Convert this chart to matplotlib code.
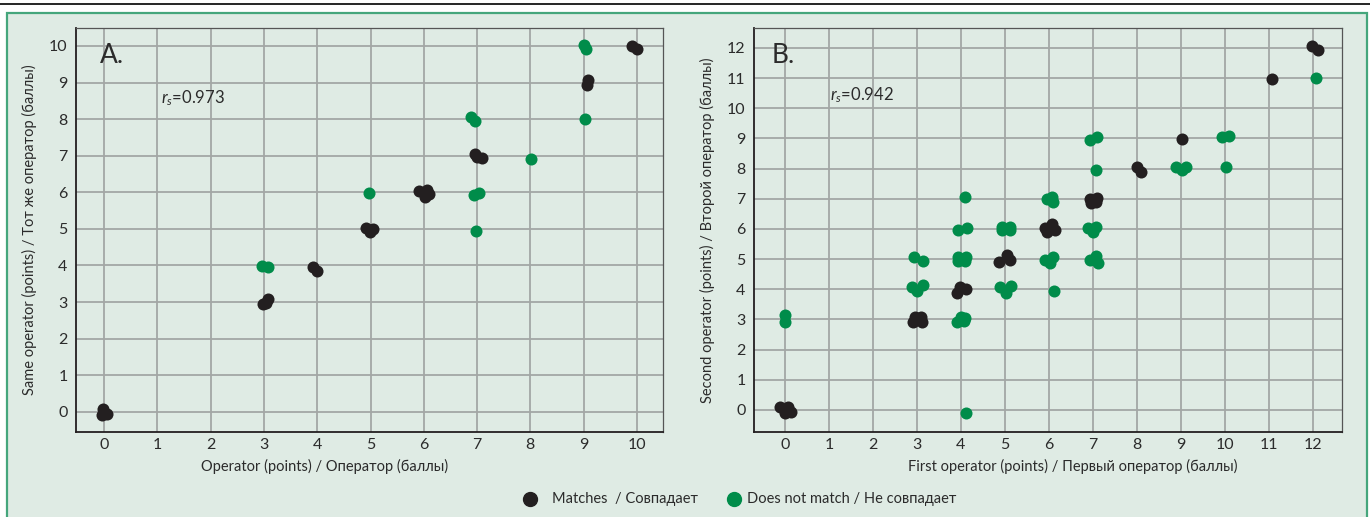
import matplotlib
matplotlib.use("Agg")
import matplotlib.pyplot as plt
from matplotlib.lines import Line2D
from matplotlib.patches import Rectangle

plt.rcParams["font.family"] = ["Lato", "DejaVu Sans"]
plt.rcParams["mathtext.fontset"] = "custom"
plt.rcParams["mathtext.it"] = "Lato:italic"
plt.rcParams["mathtext.rm"] = "Lato"

BLACK = "#231f20"
GREEN = "#008c4a"
PANEL_BG = "#dfebe4"
GRID = "#a3a7a5"
TEXT = "#2b2b2b"

W, H = 1370, 517

# A. same operator, two readings (jittered scores as plotted)
a_match_x = [-0.02, -0.04, 0.06, 2.98, 3.08, 3.04, 3.92, 4.00,
             4.92, 4.99, 5.05, 5.91, 6.06, 6.02, 6.10,
             6.96, 7.09, 7.00, 9.08, 9.06, 9.91, 10.00]
a_match_y = [0.07, -0.08, -0.05, 2.95, 3.09, 2.98, 3.96, 3.85,
             5.03, 4.92, 5.00, 6.04, 6.07, 5.87, 5.96,
             7.05, 6.94, 6.97, 9.07, 8.93, 10.00, 9.92]
a_diff_x = [2.96, 3.08, 4.97, 6.98, 6.94, 7.04, 8.01, 6.89, 6.96,
            9.02, 9.00, 9.04]
a_diff_y = [3.99, 3.96, 5.99, 4.95, 5.93, 5.98, 6.91, 8.06, 7.95,
            8.00, 10.03, 9.92]

# B. first vs second operator
b_match_x = [-0.11, 0.07, 0.00, 0.14,
             2.91, 2.95, 3.09, 3.12,
             3.91, 3.98, 4.11,
             4.86, 5.05, 5.11,
             5.91, 6.07, 6.14, 5.95,
             6.93, 7.09, 6.95, 7.08,
             8.00, 8.09, 9.02, 11.07, 11.98, 12.11]
b_match_y = [0.09, 0.09, -0.10, -0.08,
             2.92, 3.07, 3.08, 2.91,
             3.88, 4.08, 4.01,
             4.91, 5.14, 4.97,
             6.03, 6.17, 5.97, 5.90,
             7.00, 7.02, 6.87, 6.88,
             8.05, 7.89, 8.98, 10.97, 12.07, 11.93]
b_diff_x = [0.00, 0.00,
            2.93, 3.14, 2.89, 3.00, 3.14,
            3.92, 4.00, 4.10, 4.08, 4.11,
            3.94, 4.11, 3.94, 4.09,
            3.93, 4.14, 4.09,
            4.89, 5.02, 5.14,
            4.93, 5.11, 4.93, 5.11,
            6.11, 5.91, 6.09, 6.02,
            5.95, 6.07, 6.09,
            6.93, 7.07, 7.11, 6.89, 7.07, 7.00,
            7.07, 6.93, 7.09,
            8.89, 9.02, 9.11, 9.93, 10.09, 10.02, 12.07]
b_diff_y = [3.15, 2.93,
            5.07, 4.94, 4.08, 3.94, 4.14,
            2.93, 3.08, 3.05, 2.95, -0.09,
            5.07, 5.07, 4.93, 4.93,
            5.97, 6.03, 7.06,
            4.08, 3.88, 4.11,
            6.07, 6.07, 5.95, 5.95,
            3.95, 4.97, 5.07, 4.87,
            7.00, 7.06, 6.90,
            4.97, 5.10, 4.87, 6.03, 6.07, 5.90,
            7.95, 8.95, 9.05,
            8.05, 7.95, 8.05, 9.05, 9.08, 8.05, 11.00]

fig = plt.figure(figsize=(W / 100, H / 100), dpi=100)

# header rule and green panel frame
fig.add_artist(Line2D([0, 1], [1 - 3.5 / H] * 2, color="black", lw=1.2))
fig.add_artist(Rectangle((7 / W, -0.01), 1360 / W, 1 - 12.5 / H + 0.01,
                         facecolor=PANEL_BG, edgecolor="#45a67c", lw=1.6,
                         transform=fig.transFigure, zorder=0))


def style_axes(ax, xmax, ymax, xlim, ylim):
    ax.set_facecolor("none")
    ax.set_xlim(*xlim)
    ax.set_ylim(*ylim)
    ax.set_xticks(range(0, xmax + 1))
    ax.set_yticks(range(0, ymax + 1))
    ax.grid(True, color=GRID, lw=1.3)
    ax.set_axisbelow(True)
    ax.tick_params(length=0, labelsize=11.5, labelcolor=TEXT, pad=4)
    ax.tick_params(axis="y", pad=6)
    for side in ("left", "bottom"):
        ax.spines[side].set_color(BLACK)
        ax.spines[side].set_linewidth(1.3)
    for side in ("top", "right"):
        ax.spines[side].set_color("#555555")
        ax.spines[side].set_linewidth(0.9)


ax_a = fig.add_axes([76 / W, 1 - 432 / H, 587 / W, 404 / H])
style_axes(ax_a, 10, 10, (-0.53, 10.49), (-0.55, 10.49))
ax_a.scatter(a_match_x, a_match_y, s=75, color=BLACK, lw=0, zorder=3)
ax_a.scatter(a_diff_x, a_diff_y, s=75, color=GREEN, lw=0, zorder=3)
ax_a.text(-0.09, 9.74, "A.", fontsize=19, color=TEXT, va="center", ha="left")
ax_a.text(1.07, 8.58, "$r_s$=0.973", fontsize=12, color=TEXT, va="center", ha="left")
ax_a.set_xlabel("Operator (points) / Оператор (баллы)", fontsize=10.5, color=TEXT)
ax_a.xaxis.set_label_coords(0.423, -0.067)
ax_a.set_ylabel("Same operator (points) / Тот же оператор (баллы)", fontsize=10.5,
                color=TEXT, labelpad=9)

ax_b = fig.add_axes([754 / W, 1 - 432 / H, 588 / W, 404 / H])
style_axes(ax_b, 12, 12, (-0.70, 12.66), (-0.73, 12.66))
ax_b.scatter(b_match_x, b_match_y, s=75, color=BLACK, lw=0, zorder=3)
ax_b.scatter(b_diff_x, b_diff_y, s=75, color=GREEN, lw=0, zorder=3)
ax_b.text(-0.30, 11.75, "B.", fontsize=19, color=TEXT, va="center", ha="left")
ax_b.text(1.02, 10.44, "$r_s$=0.942", fontsize=12, color=TEXT, va="center", ha="left")
ax_b.set_xlabel("First operator (points) / Первый оператор (баллы)", fontsize=10.5,
                color=TEXT)
ax_b.xaxis.set_label_coords(0.5425, -0.067)
ax_b.set_ylabel("Second operator (points) / Второй оператор (баллы)", fontsize=10.5,
                color=TEXT, labelpad=9)

# legend row under both panels
legend_y = 1 - 499 / H
for mx, tx, color, label in [(530, 552, BLACK, "Matches  / Совпадает"),
                             (734, 747, GREEN, "Does not match / Не совпадает")]:
    fig.add_artist(Line2D([mx / W], [legend_y], ls="none", marker="o", ms=10,
                          color=color, transform=fig.transFigure))
    fig.text(tx / W, legend_y, label, fontsize=10.5, color=TEXT, ha="left", va="center")

fig.savefig("out.png", dpi=100)
